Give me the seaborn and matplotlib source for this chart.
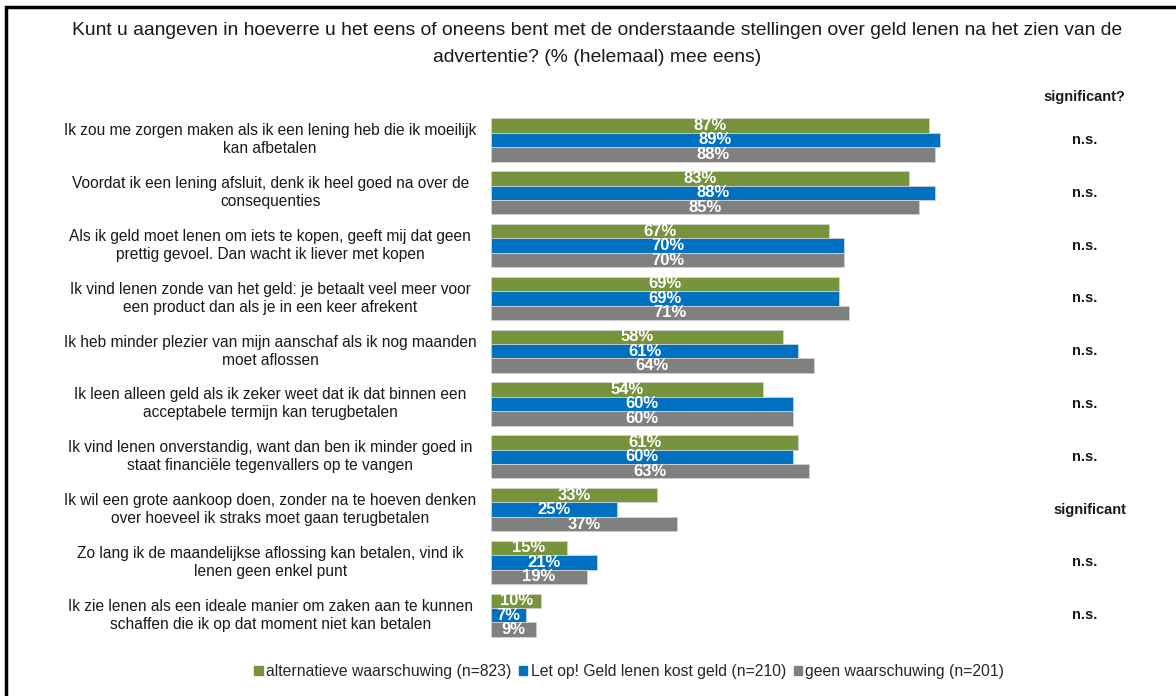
import pandas as pd
import seaborn as sns
import matplotlib.pyplot as plt
from matplotlib.patches import Rectangle

# --- data ---
statements = [
    "Ik zou me zorgen maken als ik een lening heb die ik moeilijk\nkan afbetalen",
    "Voordat ik een lening afsluit, denk ik heel goed na over de\nconsequenties",
    "Als ik geld moet lenen om iets te kopen, geeft mij dat geen\nprettig gevoel. Dan wacht ik liever met kopen",
    "Ik vind lenen zonde van het geld: je betaalt veel meer voor\neen product dan als je in een keer afrekent",
    "Ik heb minder plezier van mijn aanschaf als ik nog maanden\nmoet aflossen",
    "Ik leen alleen geld als ik zeker weet dat ik dat binnen een\nacceptabele termijn kan terugbetalen",
    "Ik vind lenen onverstandig, want dan ben ik minder goed in\nstaat financiële tegenvallers op te vangen",
    "Ik wil een grote aankoop doen, zonder na te hoeven denken\nover hoeveel ik straks moet gaan terugbetalen",
    "Zo lang ik de maandelijkse aflossing kan betalen, vind ik\nlenen geen enkel punt",
    "Ik zie lenen als een ideale manier om zaken aan te kunnen\nschaffen die ik op dat moment niet kan betalen",
]
alternatief = [87, 83, 67, 69, 58, 54, 61, 33, 15, 10]
let_op = [89, 88, 70, 69, 61, 60, 60, 25, 21, 7]
geen = [88, 85, 70, 71, 64, 60, 63, 37, 19, 9]
significance = ["n.s.", "n.s.", "n.s.", "n.s.", "n.s.", "n.s.", "n.s.",
                "significant", "n.s.", "n.s."]
series_names = ["alternatieve waarschuwing (n=823)",
                "Let op! Geld lenen kost geld (n=210)",
                "geen waarschuwing (n=201)"]
colors = ["#77933C", "#0070C0", "#808080"]

rows = []
for i, s in enumerate(statements):
    for name, vals in zip(series_names, [alternatief, let_op, geen]):
        rows.append({"stelling": s, "groep": name, "pct": vals[i]})
df = pd.DataFrame(rows)

sns.set_theme(style="white")
plt.rcParams["font.family"] = ["Liberation Sans", "DejaVu Sans"]

fig = plt.figure(figsize=(11.76, 6.96), dpi=100)
ax = fig.add_axes([0.4175, 0.0782, 0.4286, 0.7586])

sns.barplot(data=df, y="stelling", x="pct", hue="groep", orient="h",
            palette=colors, saturation=1, width=0.82, ax=ax, legend=False,
            edgecolor="#d0d0d0", linewidth=0.6)

# value labels in the middle of each bar
for cont in ax.containers:
    ax.bar_label(cont, labels=[f"{int(v)}%" for v in cont.datavalues],
                 label_type="center", color="white", fontsize=12,
                 fontweight="bold")

ax.set_xlim(0, 100)
ax.set_ylim(9.5, -0.5)
ax.set_xlabel("")
ax.set_ylabel("")
ax.set_xticks([])
ax.set_yticks([])
sns.despine(ax=ax, left=True, bottom=True)

# wrapped statement texts, centred left of the bars
for i, s in enumerate(statements):
    ax.text(-0.438, i, s, transform=ax.get_yaxis_transform(),
            ha="center", va="center", fontsize=11.2, color="#1a1a1a",
            linespacing=1.25)
    ax.text(1.188 if significance[i] == "significant" else 1.178, i,
            significance[i], transform=ax.get_yaxis_transform(),
            ha="center", va="center", fontsize=10.5, fontweight="bold",
            color="#1a1a1a")

fig.text(0.9225, 0.86, "significant?", ha="center", va="center",
         fontsize=10.5, fontweight="bold", color="#1a1a1a")

fig.text(0.508, 0.937,
         "Kunt u aangeven in hoeverre u het eens of oneens bent met de onderstaande stellingen over geld lenen na het zien van de\n"
         "advertentie? (% (helemaal) mee eens)",
         ha="center", va="center", fontsize=13.9, color="#1a1a1a",
         linespacing=1.75)

handles = [Rectangle((0, 0), 1, 1, color=c) for c in colors]
fig.legend(handles, series_names, loc="center", bbox_to_anchor=(0.535, 0.035),
           ncol=3, frameon=False, fontsize=11.3, handlelength=0.55,
           handleheight=0.55, handletextpad=0.2, columnspacing=0.5)

# frame around the picture (left and top edges visible)
fig.patches.append(Rectangle((6 / 1176, -0.05), 1.2, 1 - 7 / 696 + 0.05,
                             transform=fig.transFigure, fill=False,
                             edgecolor="black", linewidth=2.5))

fig.savefig("out.png", dpi=100)
